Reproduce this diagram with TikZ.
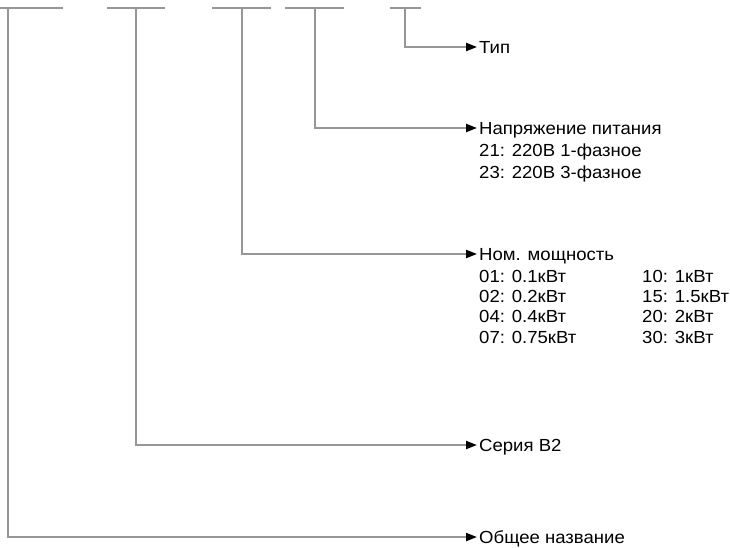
\documentclass[tikz,border=0pt]{standalone}
\usepackage{fontspec}
\setmainfont[FakeStretch=1.06]{Liberation Sans}
\usetikzlibrary{arrows.meta}
\definecolor{linegray}{RGB}{150,150,150}
\tikzstyle{codetext}=[anchor=base west,inner sep=0pt,font=\fontsize{17.5}{21}\selectfont]
\tikzstyle{codebar} = [draw,line width=2.6pt,linegray]
\tikzstyle{leader} = [draw,line width=2pt,linegray,-{Triangle[black,length=11pt,width=8pt]},shorten >=2pt]

\begin{document}
\begin{tikzpicture}[x=1pt,y=-1pt]
    \useasboundingbox (0,0) rectangle (730,547);
    % The blanks of the model code
    \foreach \from/\to in {0/63, 107/165, 212/271, 285/344, 390/421}
        \path[codebar] (\from,8) -- (\to,8);
    \foreach \x/\name in {8/gen, 136/ser, 242/pow, 315/volt, 405/typ}
        \coordinate (\name) at (\x,8);
    % Headings
    \node[codetext] (typ-t) at (479,53) {Тип};
    \node[codetext] (volt-t) at (479,134) {Напряжение питания};
    \node[codetext] (pow-t) at (479,260) {Ном. мощность};
    \node[codetext] (ser-t) at (479,451) {Серия B2};
    \node[codetext] (gen-t) at (479,543) {Общее название};
    % Values
    \foreach \y/\one in {156/21: 220В 1-фазное, 178/23: 220В 3-фазное}
        \node[codetext] (volt-\y) at (479,\y) {\one};
    \foreach \y/\one/\two in {282/01: 0.1кВт/10: 1кВт, 302/02: 0.2кВт/15: 1.5кВт,
                              322/04: 0.4кВт/20: 2кВт, 343/07: 0.75кВт/30: 3кВт}
    {
        \node[codetext] (pow-a\y) at (479,\y) {\one};
        \node[codetext] (pow-b\y) at (642,\y) {\two};
    }
    % Connect the blanks with their meaning
    \foreach \source/\dest in {typ/typ-t, volt/volt-t, pow/pow-t, ser/ser-t, gen/gen-t}
        \path[leader] (\source) |- ([yshift=6pt]\dest.base west);
\end{tikzpicture}
\end{document}
